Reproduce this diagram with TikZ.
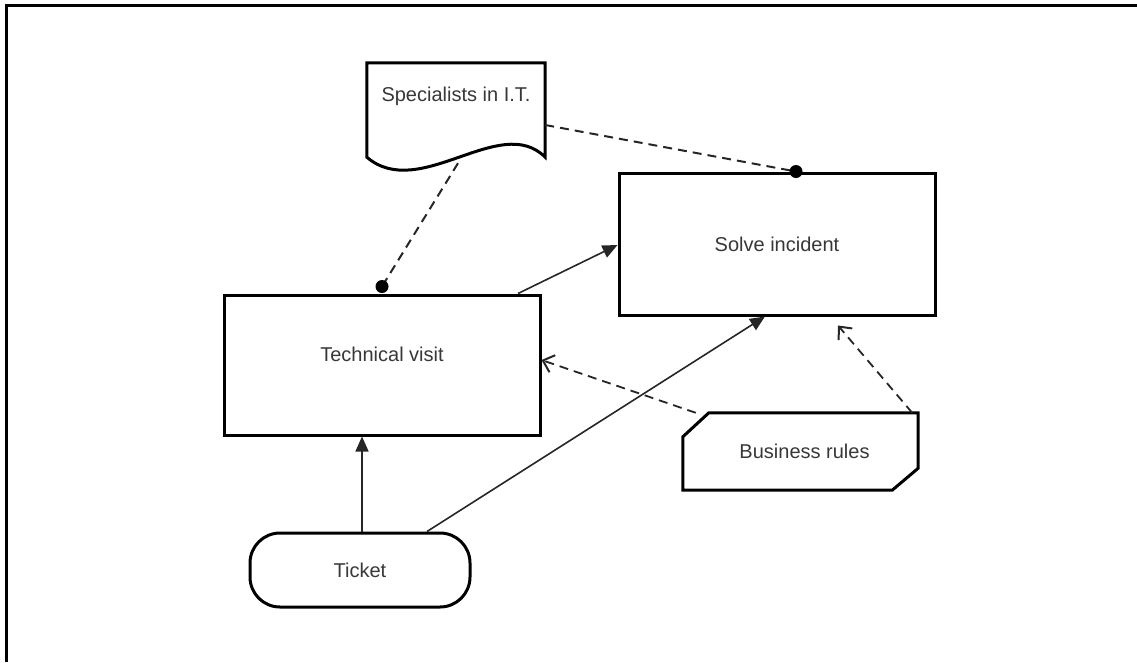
\documentclass[tikz,border=0pt]{standalone}
\usepackage{fontspec}
\setmainfont{Liberation Sans}
\usetikzlibrary{arrows.meta,calc}
\begin{document}
\begin{tikzpicture}[x=1pt,y=-1pt,
  box/.style={draw=black,line width=3pt,fill=white,minimum width=316pt,inner sep=0pt},
  lbl/.style={text=black!78,font=\fontsize{20}{24}\selectfont},
  conn/.style={draw=black!85,line width=1.6pt},
  solidarrow/.style={conn,-{Triangle[length=15pt,width=13pt]}},
  openarrow/.style={conn,dashed,dash pattern=on 9pt off 6pt,line width=1.8pt,-{Straight Barb[length=10pt,width=18pt,line width=2pt]}},
  dashlink/.style={conn,dashed,dash pattern=on 9pt off 6pt,line width=2pt},
  blob/.style={fill=black}
]
\useasboundingbox (0,0) rectangle (1137,662);
\draw[line width=3pt] (6,662) -- (6,5) -- (1137,5);

% nodes
\node[box,minimum height=142pt] (solve) at (777,244) {};
\node[lbl] (solvetext) at (solve.center) {Solve incident};
\node[box,minimum height=140pt] (tech) at (382,365) {};
\node[lbl] (techtext) at ([yshift=11pt]tech.center) {Technical visit};
\node[box,minimum width=220pt,minimum height=74pt,rounded corners=30pt] (ticket) at (360,570) {};
\node[lbl] (tickettext) at (ticket.center) {Ticket};

% document shape
\node[minimum width=178pt,minimum height=94pt,inner sep=0pt] (spec) at (456,110) {};
\draw[line width=3pt,fill=white,line join=miter]
  (spec.north west) -- (spec.north east) -- (spec.south east)
  .. controls ($(spec.south east)+(-45,-45)$) and ($(spec.south west)+(53,45)$) .. (spec.south west) -- cycle;
\node[lbl] (spectext) at ([yshift=14pt]spec.center) {Specialists in I.T.};

% business rules shape
\node[minimum width=235pt,minimum height=77pt,inner sep=0pt] (biz) at (800.5,451.5) {};
\draw[line width=3pt,fill=white,line join=miter]
  ($(biz.north west)+(0,24)$) -- ($(biz.north west)+(26,0)$) -- (biz.north east)
  -- ($(biz.south east)+(0,-22)$) -- ($(biz.south east)+(-26,0)$) -- (biz.south west) -- cycle;
\node[lbl] (biztext) at ([xshift=4pt]biz.center) {Business rules};

% connectors
\draw[solidarrow] ([xshift=2pt]ticket.north) -- ([xshift=-20pt]tech.south);
\draw[solidarrow] ([xshift=67pt]ticket.north) -- ([xshift=-12pt]solve.south);
\draw[solidarrow] ([xshift=136pt]tech.north) -- ([yshift=-1pt]solve.west);
\draw[openarrow] ([xshift=13pt]biz.north west) -- ([yshift=5pt]tech.east);
\draw[openarrow] ([xshift=-6pt]biz.north east) -- ([xshift=61pt,yshift=-9pt]solve.south);
\draw[dashlink] ([yshift=-15pt]spec.east) -- ([xshift=19pt]solve.north);
\fill[blob] ([xshift=19pt]solve.north) circle (6.5pt);
\draw[dashlink] ([xshift=2pt,yshift=-6pt]spec.south) -- ([yshift=7pt]tech.north);
\fill[blob] ([yshift=7pt]tech.north) circle (6.5pt);
\end{tikzpicture}
\end{document}
